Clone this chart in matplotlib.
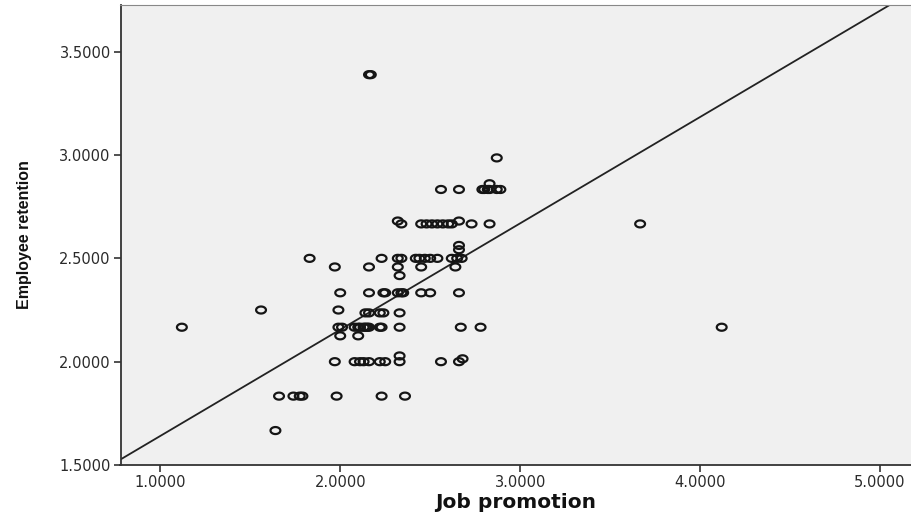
import matplotlib.pyplot as plt
import numpy as np
from matplotlib.path import Path
from matplotlib.ticker import FormatStrFormatter

# data (Job promotion vs Employee retention)
job_promotion = [
    2.16, 2.17,
    2.87,
    2.83,
    2.56, 2.66, 2.79, 2.80, 2.82, 2.83, 2.87, 2.89,
    3.6667,
    2.32, 2.66,
    2.34, 2.45, 2.48, 2.51, 2.54, 2.57, 2.60, 2.62, 2.73, 2.83,
    2.66, 2.66,
    1.83, 2.23, 2.32, 2.34, 2.42, 2.44, 2.47, 2.50, 2.54, 2.62, 2.65, 2.675,
    1.97, 2.16, 2.32, 2.45, 2.64,
    2.33,
    2.00, 2.16, 2.24, 2.25, 2.32, 2.34, 2.35, 2.45, 2.50, 2.66,
    1.56, 1.99,
    2.14, 2.16, 2.22, 2.24, 2.33,
    1.12, 1.99, 2.01, 2.08, 2.10, 2.11, 2.13, 2.14, 2.15, 2.16, 2.22, 2.23,
    2.33, 2.67, 2.78, 4.12,
    2.00, 2.10,
    2.33,
    1.97, 2.08, 2.11, 2.13, 2.16, 2.22, 2.25, 2.33, 2.56, 2.66,
    2.68,
    1.66, 1.74, 1.775, 1.79, 1.98, 2.23, 2.36,
    1.64,
]
employee_retention = (
    [3.3889] * 2
    + [2.9861]
    + [2.8611]
    + [2.8333] * 8
    + [2.6667]
    + [2.6806] * 2
    + [2.6667] * 10
    + [2.5625, 2.5417]
    + [2.5] * 12
    + [2.4583] * 5
    + [2.4167]
    + [2.3333] * 10
    + [2.25] * 2
    + [2.2361] * 5
    + [2.1667] * 16
    + [2.125] * 2
    + [2.0278]
    + [2.0] * 10
    + [2.0139]
    + [1.8333] * 7
    + [1.6667]
)

# reference line shown on the chart
line_intercept = 1.126
line_slope = 0.5145

x_ticks = [1, 2, 3, 4, 5]
y_ticks = [1.5, 2.0, 2.5, 3.0, 3.5]

plt.rcParams["font.family"] = ["DejaVu Sans"]

fig = plt.figure(figsize=(9.11, 5.17), dpi=100)
ax = fig.add_axes([120.5 / 911, 52 / 517, (911 - 120.5) / 911, 460 / 517])
ax.set_facecolor("#f0f0f0")

# SPSS-style circles look a bit wider than tall
t = np.linspace(0, 2 * np.pi, 60)
ellipse = Path(np.column_stack([1.4 * np.cos(t), np.sin(t)]), closed=True)

ax.scatter(job_promotion, employee_retention, marker=ellipse, s=50,
           facecolors="none", edgecolors="#151515", linewidths=1.6, zorder=3)
ax.axline((0, line_intercept), slope=line_slope, color="#222222", lw=1.3, zorder=2)

ax.set_xlim(0.779, 5.172)
ax.set_ylim(1.5, 3.726)
ax.set_xticks(x_ticks)
ax.set_yticks(y_ticks)
ax.xaxis.set_major_formatter(FormatStrFormatter("%.4f"))
ax.yaxis.set_major_formatter(FormatStrFormatter("%.4f"))
ax.tick_params(direction="out", length=5, width=1.2, color="#333333",
               labelsize=10.5, labelcolor="#2a2a2a", pad=2)

for side in ("left", "bottom"):
    ax.spines[side].set_color("#333333")
    ax.spines[side].set_linewidth(1.3)
ax.spines["top"].set_color("#888888")
ax.spines["right"].set_visible(False)

ax.set_xlabel("Job promotion", fontsize=14.5, fontweight="bold", color="#111111")
ax.xaxis.label.set_va("center")
ax.xaxis.set_label_coords(0.5, -0.081)
ax.set_ylabel("Employee retention", fontsize=11.5, fontweight="bold",
              family=["Liberation Sans", "DejaVu Sans"], color="#111111")
ax.yaxis.label.set_va("center")
ax.yaxis.set_label_coords(-0.122, 0.5)

fig.savefig("out.png", dpi=100)
